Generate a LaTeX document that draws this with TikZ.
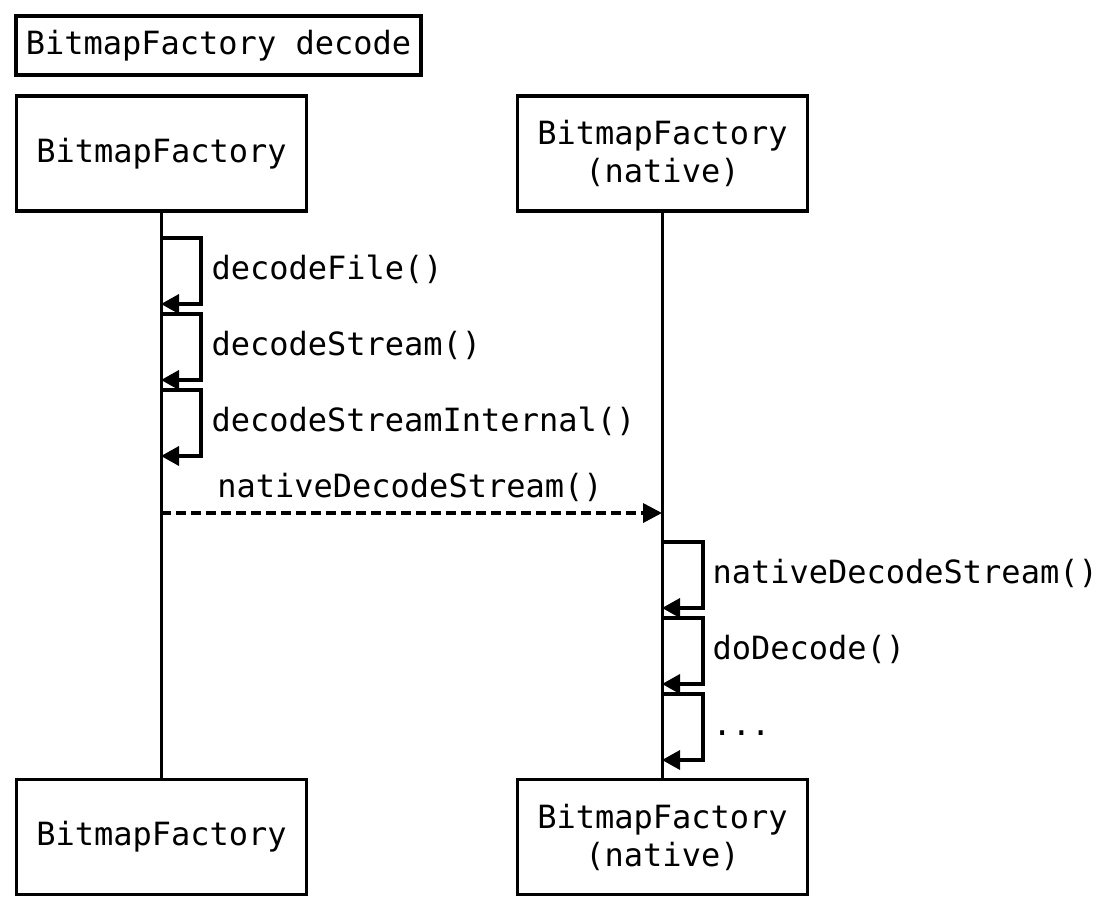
\documentclass[tikz,border=0pt]{standalone}
\usepackage{fontspec}
\setmonofont{DejaVu Sans Mono}
\usepackage{tikz}
\usetikzlibrary{arrows.meta}

\begin{document}
\begin{tikzpicture}[
  x=1pt, y=-1pt,
  txt/.style   = {font=\ttfamily\fontsize{32}{38}\selectfont},
  actor/.style = {draw, line width=3.6pt, minimum width=290pt, minimum height=115pt,
                  align=center, txt},
  frame/.style = {draw, line width=3.6pt, minimum width=405pt, minimum height=59pt, txt},
  life/.style  = {line width=3.6pt},
  call/.style  = {line width=3.6pt, -{Triangle[length=18pt,width=19pt]}},
  msg/.style   = {line width=3.6pt, dash pattern=on 10pt off 5pt,
                  -{Triangle[length=19pt,width=19pt]}},
]
\useasboundingbox (0,0) rectangle (1106,922);

% ========== Title ==========
\node[frame] (title) at (218.5, 45.5) {BitmapFactory decode};

% ========== Participants ==========
\node[actor] (BFtop)  at (161.5, 153.5) {BitmapFactory};
\node[actor] (NTtop)  at (662.5, 153.5) {BitmapFactory\\(native)};
\node[actor] (BFbot)  at (161.5, 837)   {BitmapFactory};
\node[actor] (NTbot)  at (662.5, 837)   {BitmapFactory\\(native)};

\draw[life] (BFtop.south) -- (BFbot.north);
\draw[life] (NTtop.south) -- (NTbot.north);

% ========== Self calls on BitmapFactory ==========
\coordinate (b1) at (161, 238);
\coordinate (b2) at (161, 304);
\coordinate (b3) at (161, 314);
\coordinate (b4) at (161, 380);
\coordinate (b5) at (161, 390);
\coordinate (b6) at (161, 456);

\draw[call] (b1) -- ++(40,0) |- (b2);
\draw[call] (b3) -- ++(40,0) |- (b4);
\draw[call] (b5) -- ++(40,0) |- (b6);

\node[txt, anchor=base west] (decFile)   at (208, 279) {decodeFile()};
\node[txt, anchor=base west] (decStream) at (208, 355) {decodeStream()};
\node[txt, anchor=base west] (decIntern) at (208, 431) {decodeStreamInternal()};

% ========== Call into native ==========
\coordinate (m1) at (161, 513);
\coordinate (m2) at (662, 513);
\draw[msg] (m1) -- (m2);
\node[txt, anchor=base] (natCall) at (410, 497) {nativeDecodeStream()};

% ========== Self calls on native side ==========
\coordinate (n1) at (662, 542);
\coordinate (n2) at (662, 608);
\coordinate (n3) at (662, 618);
\coordinate (n4) at (662, 684);
\coordinate (n5) at (662, 694);
\coordinate (n6) at (662, 760);

\draw[call] (n1) -- ++(41,0) |- (n2);
\draw[call] (n3) -- ++(41,0) |- (n4);
\draw[call] (n5) -- ++(41,0) |- (n6);

\node[txt, anchor=base west] (natDec) at (709, 583) {nativeDecodeStream()};
\node[txt, anchor=base west] (doDec)  at (709, 659) {doDecode()};
\node[txt, anchor=base west] (more)   at (709, 735) {...};

\end{tikzpicture}
\end{document}
